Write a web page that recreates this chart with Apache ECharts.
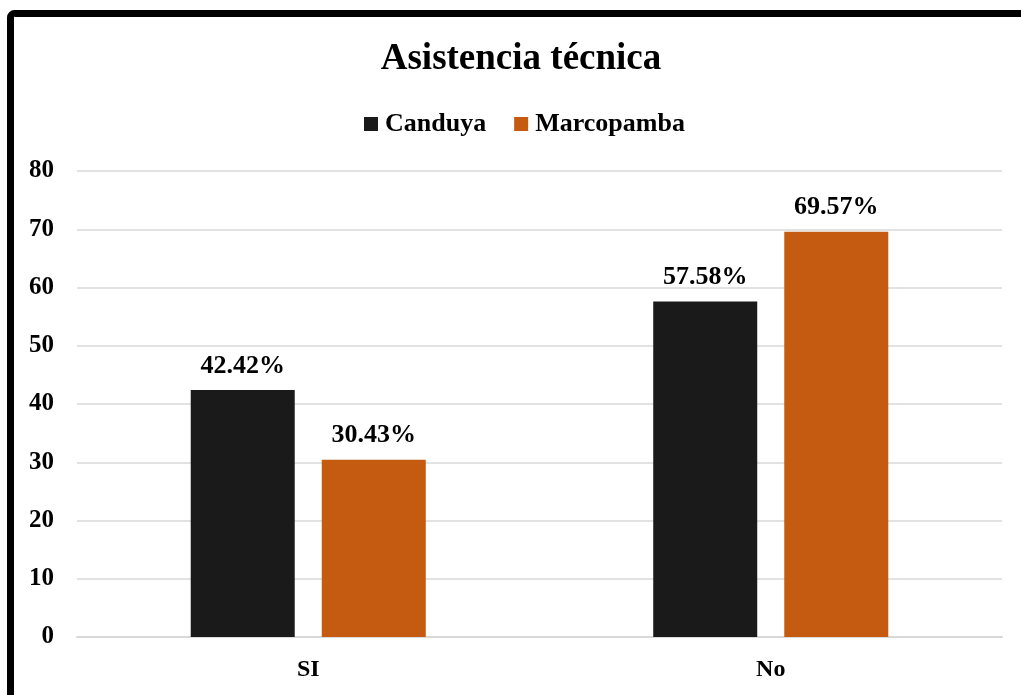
<!DOCTYPE html>
<html><head><meta charset="utf-8">
<script src="https://cdn.jsdelivr.net/npm/echarts@6/dist/echarts.min.js"></script>
<style>html,body{margin:0;padding:0;background:#fff}#c{width:1021px;height:695px}</style>
</head><body><div id="c"></div>
<script>
const categories = ['SI', 'No'];
const canduya = [42.42, 57.58];
const marcopamba = [30.43, 69.57];
const yTicks = [0, 10, 20, 30, 40, 50, 60, 70, 80];

const F = '"Liberation Serif", "Times New Roman", serif';
const chart = echarts.init(document.getElementById('c'));
const lbl = {
  show: true, position: 'top', distance: 11,
  formatter: p => p.value.toFixed(2) + '%',
  fontFamily: F, fontWeight: 'bold', fontSize: 26, color: '#000'
};
chart.setOption({
  animation: false,
  backgroundColor: '#fff',
  title: {
    text: 'Asistencia técnica', left: 516, top: 36, textAlign: 'center',
    textStyle: { fontFamily: F, fontWeight: 'bold', fontSize: 37, color: '#000' }
  },
  legend: {
    top: 106, left: 359, itemWidth: 14, itemHeight: 14, itemGap: 28,
    icon: 'rect',
    textStyle: { fontFamily: F, fontWeight: 'bold', fontSize: 26, color: '#000', padding: [0, 0, 0, 2] },
    data: ['Canduya', 'Marcopamba']
  },
  grid: { left: 77, right: 19, top: 171, bottom: 58, containLabel: false },
  xAxis: {
    type: 'category', data: categories,
    axisLine: { show: true, lineStyle: { color: '#d9d9d9', width: 2 } },
    axisTick: { show: false },
    axisLabel: { fontFamily: F, fontWeight: 'bold', fontSize: 24, color: '#000', margin: 21 }
  },
  yAxis: {
    type: 'value', min: 0, max: 80, interval: 10,
    axisLine: { show: false }, axisTick: { show: false },
    splitLine: { lineStyle: { color: '#d9d9d9', width: 1.5 } },
    axisLabel: {
      fontFamily: F, fontWeight: 'bold', fontSize: 25, color: '#000', margin: 23,
      formatter: v => yTicks.includes(v) ? String(v) : ''
    }
  },
  series: [
    { name: 'Canduya', type: 'bar', data: canduya, barWidth: 104, barGap: '26%',
      itemStyle: { color: '#1a1a1a' }, label: lbl },
    { name: 'Marcopamba', type: 'bar', data: marcopamba, barWidth: 104,
      itemStyle: { color: '#c55a11' }, label: lbl }
  ],
  graphic: [{
    type: 'rect', shape: { x: 10.5, y: 13.5, width: 1200, height: 900, r: 4 },
    style: { fill: null, stroke: '#000', lineWidth: 7 }, z: 100
  }]
});
</script></body></html>
